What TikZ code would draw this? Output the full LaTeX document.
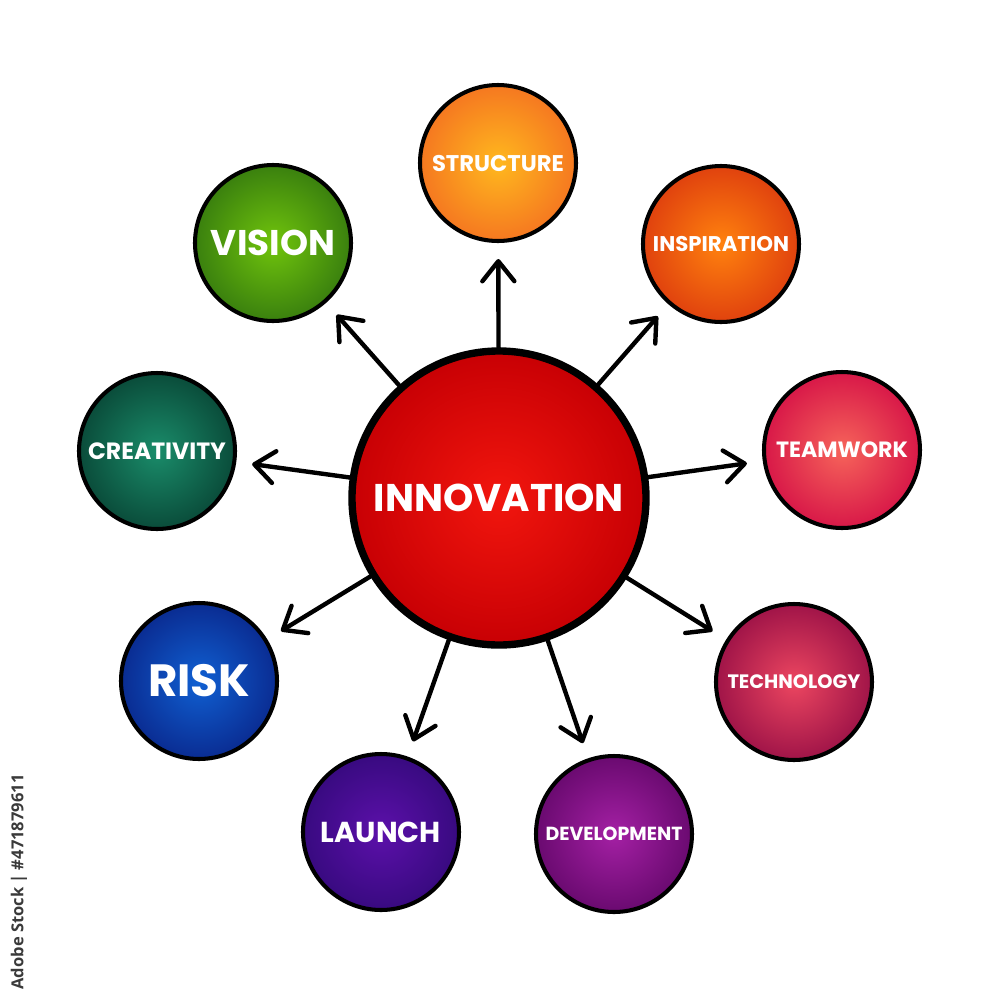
\documentclass[tikz,border=0pt]{standalone}
\usepackage{fontspec}
\newfontfamily\lbl{Poppins}
\newfontfamily\wmfont{Open Sans}
\usetikzlibrary{arrows.meta}
\definecolor{wmgray}{HTML}{3A3A3A}
\begin{document}
\begin{tikzpicture}[x=0.1mm,y=-0.1mm,
  sat/.style={circle, draw=black, line width=1.15pt, minimum size=15.6mm, inner sep=0pt, text=white, font=\lbl\bfseries},
  hub/.style={circle, draw=black, line width=2.1pt, minimum size=29.4mm, inner sep=0pt, text=white, font=\lbl\bfseries},
  arr/.style={draw=black, line width=1.25pt, line cap=round, -{Straight Barb[length=2mm,width=3.2mm,line cap=round,line join=round]}, shorten >=1.6mm}]
\useasboundingbox[fill=white] (0,0) rectangle (1000,1000);

\node[hub, inner color={rgb,255:red,242;green,22;blue,14}, outer color={rgb,255:red,200;green,0;blue,4}] (c) at (499,498) {\resizebox{25mm}{!}{INNOVATION}};

\node[sat, inner color={rgb,255:red,255;green,184;blue,30}, outer color={rgb,255:red,245;green,120;blue,32}] (st) at (498,163) {\resizebox{13.2mm}{!}{STRUCTURE}};
\node[sat, inner color={rgb,255:red,112;green,196;blue,12}, outer color={rgb,255:red,58;green,128;blue,14}] (vi) at (273,243) {\resizebox{12.4mm}{!}{VISION}};
\node[sat, inner color={rgb,255:red,255;green,130;blue,14}, outer color={rgb,255:red,224;green,66;blue,14}] (ins) at (721,244) {\resizebox{13.6mm}{!}{INSPIRATION}};
\node[sat, inner color={rgb,255:red,26;green,140;blue,106}, outer color={rgb,255:red,10;green,76;blue,58}] (cr) at (157,451) {\resizebox{13.8mm}{!}{CREATIVITY}};
\node[sat, inner color={rgb,255:red,246;green,100;blue,90}, outer color={rgb,255:red,216;green,24;blue,72}] (te) at (842,450) {\resizebox{13.2mm}{!}{TEAMWORK}};
\node[sat, inner color={rgb,255:red,16;green,96;blue,210}, outer color={rgb,255:red,10;green,44;blue,146}] (ri) at (199,681) {\resizebox{10.2mm}{!}{RISK}};
\node[sat, inner color={rgb,255:red,236;green,70;blue,96}, outer color={rgb,255:red,160;green,20;blue,72}] (tc) at (794,682) {\resizebox{13.3mm}{!}{TECHNOLOGY}};
\node[sat, inner color={rgb,255:red,92;green,16;blue,170}, outer color={rgb,255:red,56;green,10;blue,128}] (la) at (381,832) {\resizebox{12mm}{!}{LAUNCH}};
\node[sat, inner color={rgb,255:red,164;green,32;blue,164}, outer color={rgb,255:red,106;green,10;blue,112}] (de) at (614,834) {\resizebox{13.7mm}{!}{DEVELOPMENT}};

\draw[arr] (c) -- (st);
\draw[arr] (c) -- (vi);
\draw[arr] (c) -- (ins);
\draw[arr] (c) -- (cr);
\draw[arr] (c) -- (te);
\draw[arr] (c) -- (ri);
\draw[arr] (c) -- (tc);
\draw[arr] (c) -- (la);
\draw[arr] (c) -- (de);

\node[rotate=90, text=wmgray, inner sep=0pt] (wm) at (19,882) {\resizebox{21.5mm}{!}{\wmfont\bfseries Adobe Stock | \#471879611}};
\end{tikzpicture}
\end{document}
